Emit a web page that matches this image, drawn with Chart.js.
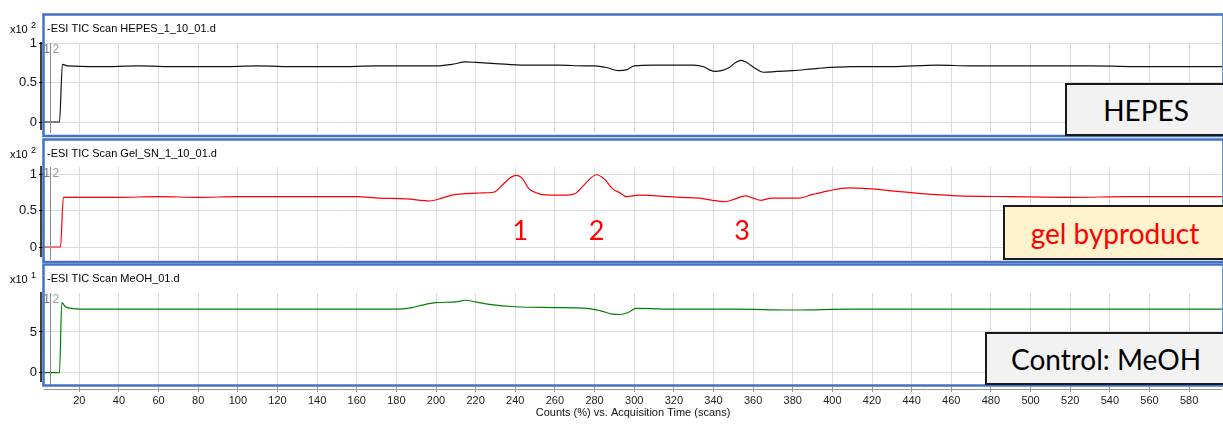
<!DOCTYPE html>
<html>
<head>
<meta charset="utf-8">
<script src="https://cdn.jsdelivr.net/npm/chart.js@4.4.1/dist/chart.umd.min.js"></script>
<style>
  html, body { margin: 0; padding: 0; background: #fff; overflow: hidden; }
  #page { position: relative; width: 1223px; height: 424px; overflow: hidden; }
  .panel { position: absolute; left: 0; }
  .panel canvas { display: block; }
  .tag {
    position: absolute; box-sizing: border-box; border: 2px solid #1a1a1a;
    font-family: Lato, 'Open Sans', sans-serif; font-size: 28px;
    display: flex; align-items: center; justify-content: center;
  }
</style>
</head>
<body>
<div id="page">
  <div class="panel" style="top:0px"><canvas id="hepes" width="1223" height="140"></canvas></div>
  <div class="panel" style="top:137px"><canvas id="gel" width="1223" height="126"></canvas></div>
  <div class="panel" style="top:262px"><canvas id="meoh" width="1223" height="162"></canvas></div>

  <div class="tag" style="left:1065px; top:83px; width:162px; height:53px; background:#f2f2f2; color:#000;">HEPES</div>
  <div class="tag" style="left:1003px; top:205px; width:224px; height:55px; background:#fff2cc; color:#ff0000;">gel byproduct</div>
  <div class="tag" style="left:985px; top:332px; width:242px; height:53px; background:#f2f2f2; color:#000;">Control: MeOH</div>
</div>

<script>
// x range of the acquisition (scans)
const scanMin = 2.2;
const scanMax = 596.6;

// HEPES trace (x10^2)
const hepesScans  = [2.2, 10, 11.5, 14, 30, 50, 70, 90, 110, 130, 150, 170, 190, 200, 208, 215, 220, 230, 245, 262, 275, 280, 286, 292, 296, 300, 310, 320, 330, 335, 338, 341, 344, 348, 351, 354, 357, 361, 365, 372, 380, 393, 410, 430, 453, 470, 500, 530, 560, 596.6];
const hepesValues = [0, 0, 0.73, 0.71, 0.70, 0.71, 0.70, 0.70, 0.71, 0.70, 0.70, 0.71, 0.71, 0.71, 0.73, 0.76, 0.755, 0.74, 0.72, 0.72, 0.71, 0.71, 0.69, 0.65, 0.66, 0.71, 0.72, 0.72, 0.72, 0.70, 0.66, 0.64, 0.65, 0.69, 0.75, 0.78, 0.75, 0.68, 0.63, 0.64, 0.65, 0.68, 0.70, 0.70, 0.72, 0.71, 0.71, 0.71, 0.70, 0.70];

// gel supernatant trace (x10^2)
const gelScans  = [2.2, 10.5, 12, 20, 40, 60, 80, 100, 120, 140, 160, 171, 185, 197, 203, 210, 222, 229, 233.5, 237, 240.5, 243.5, 246.8, 250, 253, 258, 264, 270, 274, 277.5, 281, 285, 289, 293, 296, 302.5, 323, 333, 339.5, 346, 351, 356, 360, 364, 369.5, 383, 390, 398, 408, 418, 430, 445, 463, 490, 520, 550, 580, 596.6];
const gelValues = [0, 0, 0.68, 0.68, 0.68, 0.69, 0.68, 0.69, 0.69, 0.69, 0.69, 0.67, 0.66, 0.63, 0.67, 0.72, 0.74, 0.75, 0.85, 0.94, 0.98, 0.94, 0.80, 0.75, 0.72, 0.71, 0.71, 0.73, 0.83, 0.93, 0.99, 0.93, 0.80, 0.74, 0.69, 0.71, 0.68, 0.67, 0.64, 0.62, 0.66, 0.70, 0.67, 0.64, 0.67, 0.67, 0.72, 0.77, 0.81, 0.80, 0.77, 0.73, 0.70, 0.69, 0.68, 0.69, 0.69, 0.69];

// methanol control trace (x10^1)
const meohScans  = [2.2, 10, 11.2, 13, 16, 20, 40, 60, 80, 100, 120, 140, 160, 180, 188, 193, 200, 210, 215, 220, 227, 240, 260, 276, 283, 289, 293, 297, 301, 322, 350, 380, 410, 440, 470, 500, 530, 560, 596.6];
const meohValues = [0, 0, 8.6, 8.1, 7.9, 7.8, 7.8, 7.8, 7.8, 7.8, 7.8, 7.8, 7.8, 7.8, 8.0, 8.3, 8.6, 8.7, 8.9, 8.7, 8.4, 8.1, 8.0, 7.9, 7.6, 7.2, 7.15, 7.4, 7.9, 7.8, 7.8, 7.7, 7.8, 7.8, 7.8, 7.8, 7.8, 7.8, 7.8];

// numbered peaks in the gel trace
const peakLabels = ['1', '2', '3'];
const peakScans  = [242.5, 281, 354.5];
const peakLevel  = 0.22;

const tickFont = { family: "'Liberation Sans', Arial, sans-serif", size: 11 };

// frame, y axis line, scan title, exponent and the "1|2" marker
const panelDecor = {
  id: 'panelDecor',
  afterDraw(chart, args, opts) {
    const { ctx, chartArea, scales } = chart;
    const left = chartArea.left, right = chartArea.right;
    ctx.save();

    // marker line at scan 5
    const mx = Math.round(scales.x.getPixelForValue(5)) + 0.5;
    ctx.strokeStyle = '#8c8c8c';
    ctx.lineWidth = 1;
    ctx.beginPath();
    ctx.moveTo(mx, chartArea.top);
    ctx.lineTo(mx, chartArea.bottom);
    ctx.stroke();
    ctx.font = "12px 'Liberation Sans', Arial, sans-serif";
    ctx.textBaseline = 'top';
    ctx.textAlign = 'right';
    ctx.fillStyle = '#777';
    ctx.fillText('1', mx - 0.5, chartArea.top + 1);
    ctx.textAlign = 'left';
    ctx.fillStyle = '#9a9a9a';
    ctx.fillText('2', mx + 2, chartArea.top + 1);

    // black y axis line just left of the frame
    ctx.strokeStyle = '#000';
    ctx.lineWidth = 1.5;
    ctx.beginPath();
    ctx.moveTo(left - 3, chartArea.top - 1);
    ctx.lineTo(left - 3, chartArea.bottom - 3);
    ctx.stroke();

    // blue panel frame
    ctx.strokeStyle = '#4472c4';
    ctx.lineWidth = 2.5;
    ctx.strokeRect(left - 0.5, opts.frameTop, right - left + 2, opts.frameBottom - opts.frameTop);

    // scan title
    ctx.fillStyle = '#000';
    ctx.font = "11px 'Liberation Sans', Arial, sans-serif";
    ctx.textAlign = 'left';
    ctx.textBaseline = 'middle';
    ctx.fillText(opts.title, left + 3, opts.frameTop + 14);

    // exponent label
    ctx.fillText('x10', 10, opts.frameTop + 15);
    ctx.font = "9px 'Liberation Sans', Arial, sans-serif";
    ctx.fillText(opts.exp, 31, opts.frameTop + 11);

    // x axis base line under the last panel
    if (opts.baseLine) {
      ctx.strokeStyle = '#999';
      ctx.lineWidth = 1;
      ctx.beginPath();
      ctx.moveTo(left, chartArea.bottom + 4.5);
      ctx.lineTo(right, chartArea.bottom + 4.5);
      ctx.stroke();
    }

    // numbered peaks
    if (opts.peaks) {
      ctx.fillStyle = '#ff0000';
      ctx.font = "27px Lato, 'Open Sans', sans-serif";
      ctx.textAlign = 'center';
      ctx.textBaseline = 'middle';
      peakLabels.forEach((lbl, i) => {
        ctx.fillText(lbl, scales.x.getPixelForValue(peakScans[i]), scales.y.getPixelForValue(peakLevel));
      });
    }
    ctx.restore();
  }
};

function makePanel(id, scans, values, color, p) {
  const ctx = document.getElementById(id).getContext('2d');
  return new Chart(ctx, {
    type: 'line',
    data: {
      datasets: [{
        data: scans.map((s, i) => ({ x: s, y: values[i] })),
        borderColor: color,
        borderWidth: 1.2,
        pointRadius: 0,
        cubicInterpolationMode: 'monotone'
      }]
    },
    options: {
      responsive: false,
      animation: false,
      layout: { padding: { top: p.padTop, bottom: p.padBottom, left: 0, right: 1 } },
      plugins: {
        legend: { display: false },
        tooltip: { enabled: false },
        panelDecor: { title: p.title, exp: p.exp, frameTop: p.frameTop, frameBottom: p.frameBottom, peaks: p.peaks, baseLine: p.showX }
      },
      scales: {
        x: {
          type: 'linear',
          min: scanMin,
          max: scanMax,
          ticks: {
            display: p.showX, stepSize: 20, includeBounds: false, autoSkip: false,
            maxRotation: 0, color: '#222', font: tickFont, padding: 2
          },
          grid: { color: '#dcdcdc', drawTicks: p.showX, tickLength: 7, tickColor: '#999' },
          border: { display: false },
          title: {
            display: p.showX, text: 'Counts (%) vs. Acquisition Time (scans)',
            color: '#111', font: tickFont, padding: { top: 4, bottom: 4 }
          },
          afterFit: s => { s.height = p.xHeight; s.paddingLeft = 0; s.paddingRight = 0; }
        },
        y: {
          min: p.yMin,
          max: p.yMax,
          ticks: {
            stepSize: p.yStep, includeBounds: false, color: '#111',
            font: { family: tickFont.family, size: 13 }, padding: 2,
            callback: v => String(v)
          },
          grid: { color: '#dcdcdc', tickLength: 5, tickColor: '#000' },
          border: { display: false },
          // fixed axis width, no extra room for edge labels
          afterFit: s => { s.width = 44; s.paddingTop = 0; s.paddingBottom = 0; }
        }
      }
    },
    plugins: [panelDecor]
  });
}

makePanel('hepes', hepesScans, hepesValues, '#111111', {
  title: '-ESI TIC Scan HEPES_1_10_01.d', exp: '2',
  padTop: 43, padBottom: 7, xHeight: 0, showX: false,
  frameTop: 14.5, frameBottom: 136,
  yMin: -0.139, yMax: 1.0, yStep: 0.5
});

makePanel('gel', gelScans, gelValues, '#ff0000', {
  title: '-ESI TIC Scan Gel_SN_1_10_01.d', exp: '2',
  padTop: 30, padBottom: 3, xHeight: 0, showX: false,
  frameTop: 2.5, frameBottom: 125, peaks: true,
  yMin: -0.178, yMax: 1.096, yStep: 0.5
});

makePanel('meoh', meohScans, meohValues, '#008000', {
  title: '-ESI TIC Scan MeOH_01.d', exp: '1',
  padTop: 31, padBottom: 0, xHeight: 39, showX: true,
  frameTop: 2.5, frameBottom: 123.5,
  yMin: -1.51, yMax: 9.79, yStep: 5
});
</script>
</body>
</html>
